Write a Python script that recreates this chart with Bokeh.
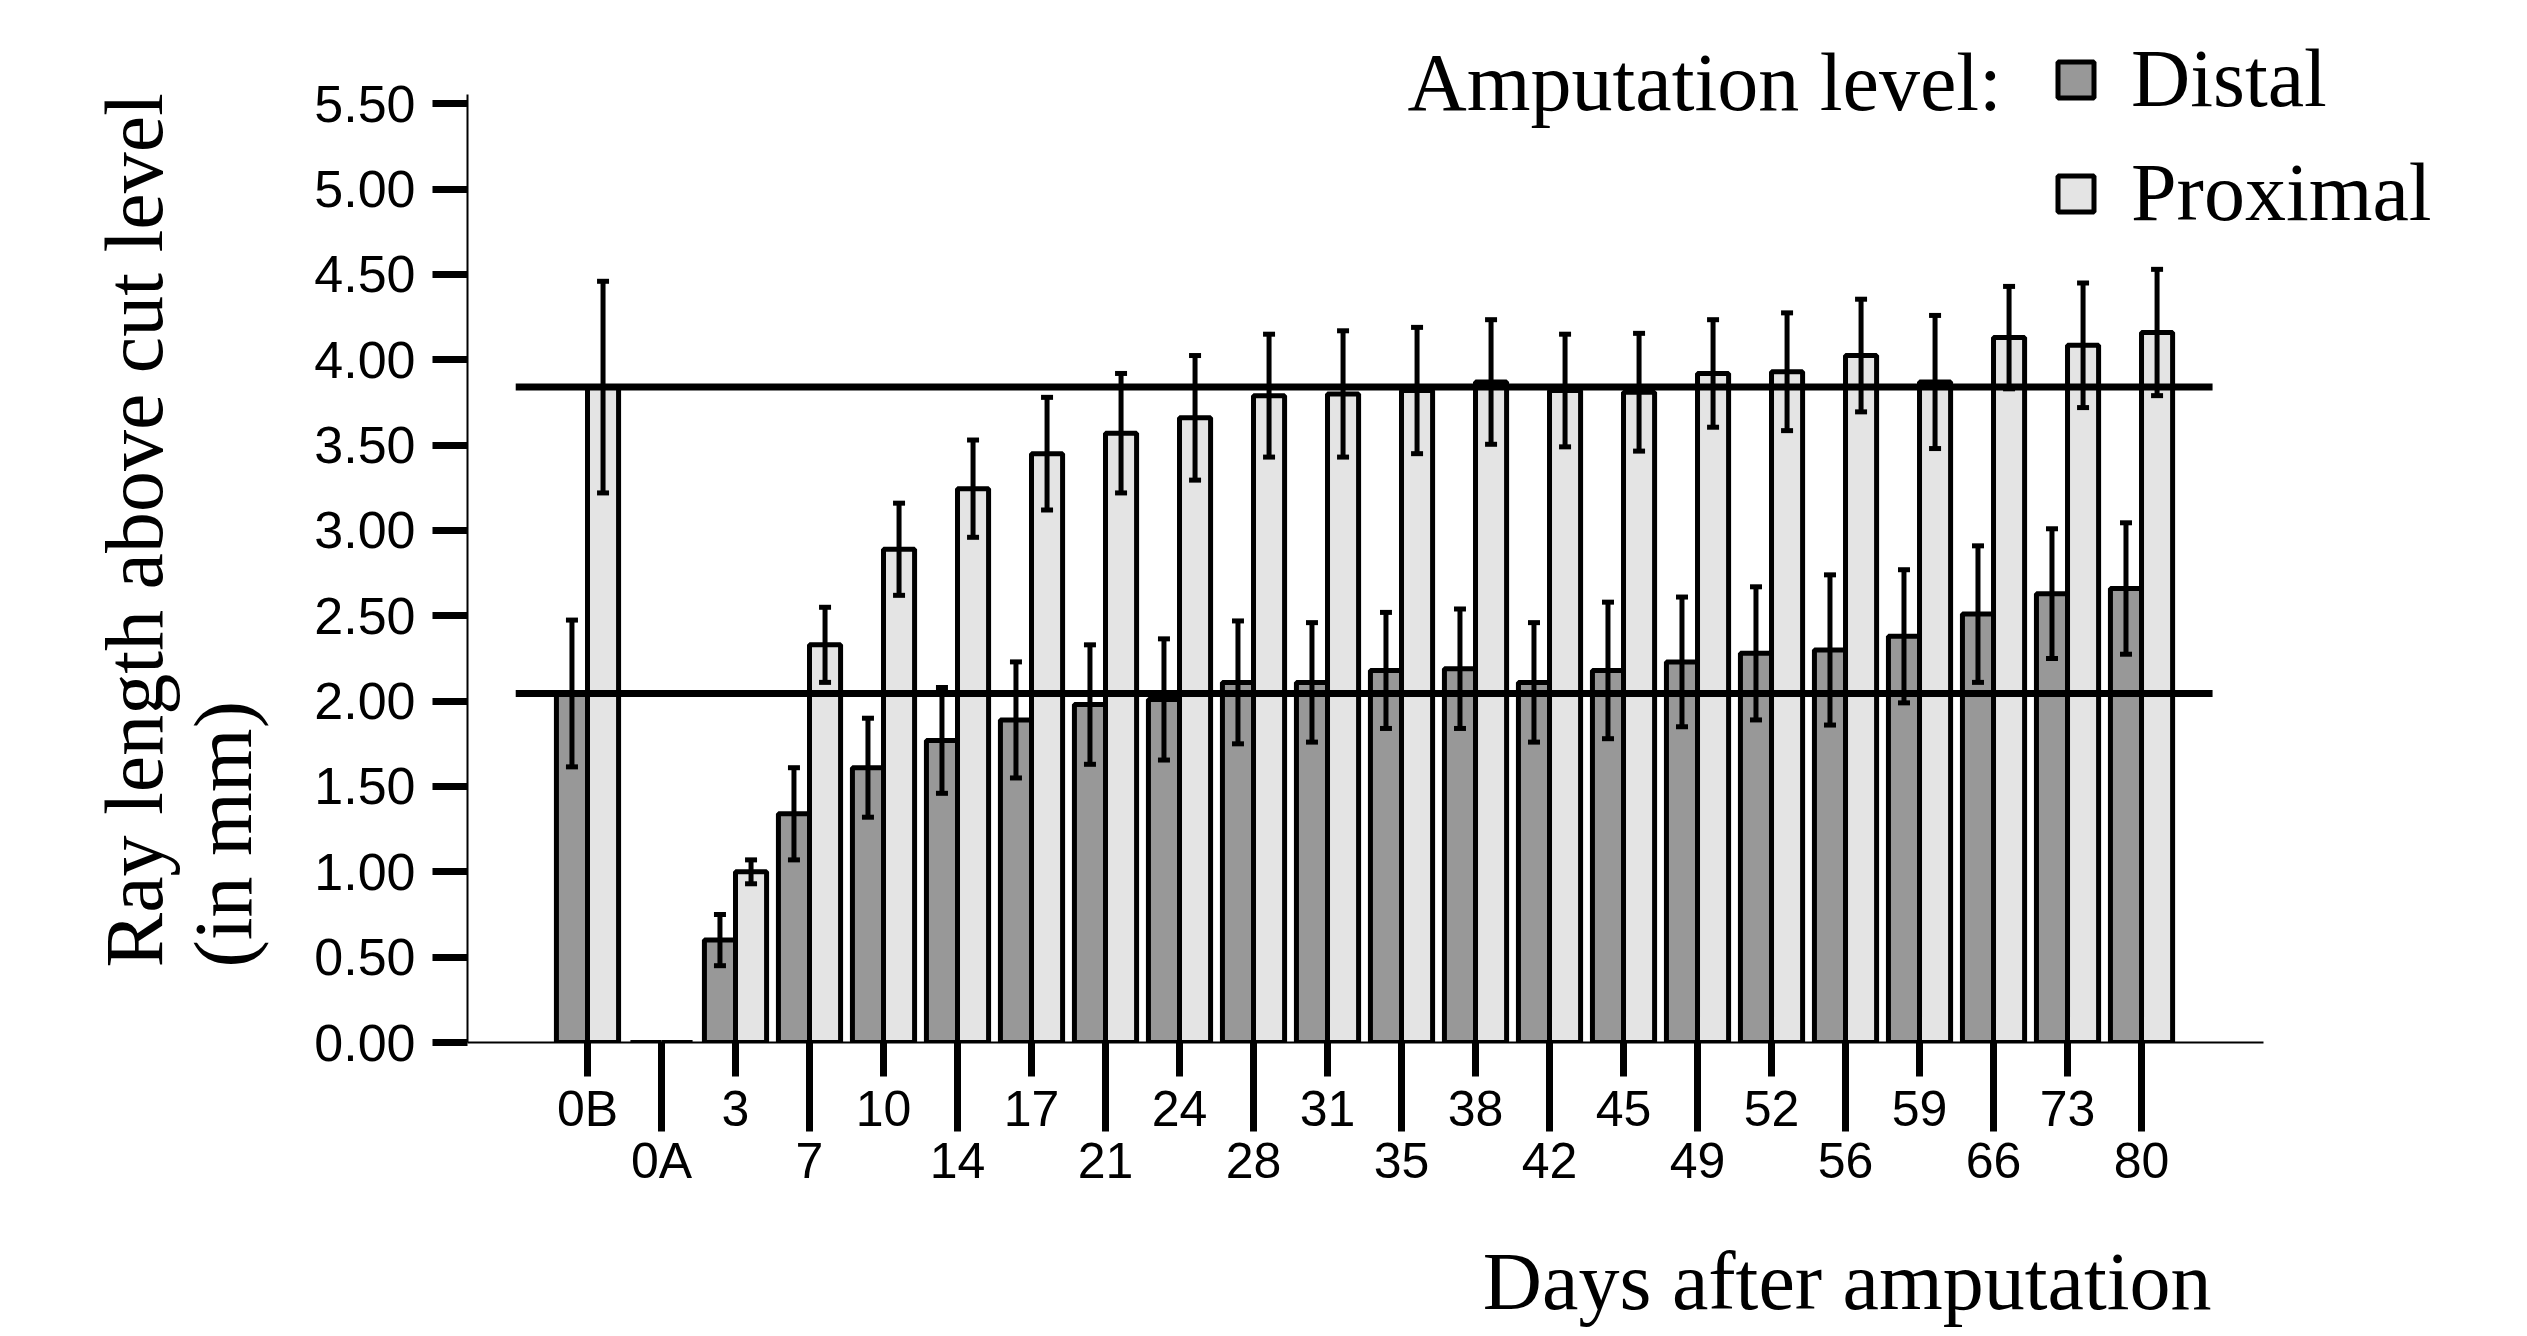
import numpy as np
from bokeh.plotting import figure
from bokeh.models import (Range1d, FixedTicker, ColumnDataSource, Whisker, TeeHead,
                          Label, Legend, LegendItem, PrintfTickFormatter, Title)
from bokeh.embed import file_html
from bokeh.resources import INLINE

# ---------------- data ----------------
days = ["0B", "0A", "3", "7", "10", "14", "17", "21", "24", "28", "31",
        "35", "38", "42", "45", "49", "52", "56", "59", "66", "73", "80"]
distal = [2.045, 0.0, 0.60, 1.34, 1.61, 1.77, 1.89, 1.98, 2.01, 2.11, 2.11,
          2.18, 2.19, 2.11, 2.18, 2.23, 2.28, 2.30, 2.38, 2.51, 2.63, 2.66]
distal_err = [0.43, 0.0, 0.15, 0.27, 0.29, 0.31, 0.34, 0.35, 0.355, 0.36, 0.35,
              0.34, 0.35, 0.35, 0.40, 0.38, 0.39, 0.44, 0.39, 0.40, 0.38, 0.385]
proximal = [3.84, 0.0, 1.00, 2.33, 2.89, 3.245, 3.45, 3.57, 3.66, 3.79, 3.80,
            3.82, 3.87, 3.82, 3.81, 3.92, 3.93, 4.025, 3.87, 4.13, 4.085, 4.16]
proximal_err = [0.62, 0.0, 0.07, 0.22, 0.27, 0.285, 0.33, 0.35, 0.365, 0.36, 0.37,
                0.37, 0.365, 0.33, 0.345, 0.315, 0.345, 0.33, 0.39, 0.30, 0.365, 0.37]
ref_levels = [3.84, 2.045]          # uninjured (0B) reference lengths
y_ticks = [0.0, 0.5, 1.0, 1.5, 2.0, 2.5, 3.0, 3.5, 4.0, 4.5, 5.0, 5.5]
series_names = ["Distal", "Proximal"]
legend_title = "Amputation level:"
x_title = "Days after amputation"
y_title = "Ray length above cut level\n(in mm)"

# ---------------- styling ----------------
DISTAL_C = "#989898"
PROX_C = "#e4e4e4"
BAR_W = 0.42
SANS = "Liberation Sans"
SERIF = "Liberation Serif"

n = len(days)
idx = np.arange(n)

def make_src(offset, vals, errs):
    v = np.array(vals)
    e = np.array(errs)
    return ColumnDataSource(dict(x=idx + offset, top=v, lower=v - e, upper=v + e))

src_d = make_src(-BAR_W / 2, distal, distal_err)
src_p = make_src(BAR_W / 2, proximal, proximal_err)

X_LO, X_AX_HI, X_HI = -1.6216, 22.649, 25.851
Y_AX_HI, Y_HI = 5.553, 5.988

p = figure(width=2511, height=1330,
           x_range=Range1d(X_LO, X_HI), y_range=Range1d(0, Y_HI),
           output_backend="svg", toolbar_location=None,
           min_border_left=467, min_border_right=11,
           min_border_top=20, min_border_bottom=288)
p.xgrid.visible = False
p.ygrid.visible = False
p.outline_line_color = None
p.background_fill_color = "white"
p.border_fill_color = "white"

rd = p.vbar(x="x", top="top", bottom=0, width=BAR_W, source=src_d,
            fill_color=DISTAL_C, line_color="black", line_width=5)
rp = p.vbar(x="x", top="top", bottom=0, width=BAR_W, source=src_p,
            fill_color=PROX_C, line_color="black", line_width=5)

p.segment(x0=[-0.97] * len(ref_levels), x1=[n - 1 + 0.96] * len(ref_levels),
          y0=ref_levels, y1=ref_levels, line_color="black", line_width=7)

for src in (src_d, src_p):
    w = Whisker(source=src, base="x", upper="upper", lower="lower",
                line_color="black", line_width=5, level="overlay",
                upper_head=TeeHead(size=12, line_width=5, line_color="black"),
                lower_head=TeeHead(size=12, line_width=5, line_color="black"))
    p.add_layout(w)

# x axis: alternating short / long ticks and two label rows
xa = p.xaxis[0]
xa.bounds = (X_LO, X_AX_HI)
xa.ticker = FixedTicker(ticks=[int(i) for i in idx],
                        minor_ticks=[int(i) for i in idx[1::2]])
xa.major_label_overrides = {int(i): (d if i % 2 == 0 else "\n" + d)
                            for i, d in enumerate(days)}
xa.axis_line_color = "black"
xa.axis_line_width = 2
xa.major_tick_in = 0
xa.major_tick_out = 34
xa.minor_tick_in = 0
xa.minor_tick_out = 89
xa.major_tick_line_width = 7
xa.minor_tick_line_width = 7
xa.major_tick_line_color = "black"
xa.minor_tick_line_color = "black"
xa.major_label_text_font = SANS
xa.major_label_text_font_size = "50px"
xa.major_label_text_color = "black"
xa.major_label_text_line_height = 0.936
xa.major_label_standoff = -51

ya = p.yaxis[0]
ya.bounds = (0, Y_AX_HI)
ya.ticker = FixedTicker(ticks=y_ticks)
ya.formatter = PrintfTickFormatter(format="%.2f")
ya.axis_line_color = "black"
ya.axis_line_width = 2
ya.major_tick_in = 0
ya.major_tick_out = 35
ya.major_tick_line_width = 7
ya.major_tick_line_color = "black"
ya.minor_tick_line_color = None
ya.major_label_text_font = SANS
ya.major_label_text_font_size = "52px"
ya.major_label_text_color = "black"
ya.major_label_standoff = 17

# axis titles in the side panels
p.add_layout(Title(text=y_title, align="left", offset=75, vertical_align="bottom",
                   standoff=84, text_font=SERIF, text_font_size="82px",
                   text_font_style="normal", text_color="black",
                   text_line_height=0.98), "left")
# blank spacer between the tick labels and the x title
p.add_layout(Title(text=" ", standoff=41, text_font_size="1px"), "below")
p.add_layout(Title(text=x_title, align="right", offset=289, vertical_align="top",
                   standoff=0, text_font=SERIF, text_font_size="82px",
                   text_font_style="normal", text_color="black"), "below")

# legend (inside the extended frame, above the bars)
p.add_layout(Label(x=940, y=960, x_units="screen", y_units="screen",
                   text=legend_title, text_align="left", text_baseline="alphabetic",
                   text_font=SERIF, text_font_size="82px", text_color="black"))

legend = Legend(items=[LegendItem(label=series_names[0], renderers=[rd]),
                       LegendItem(label=series_names[1], renderers=[rp])],
                location=(1586, 802), orientation="vertical",
                padding=0, margin=0, spacing=20,
                glyph_width=45, glyph_height=45, label_standoff=33,
                label_text_font=SERIF, label_text_font_size="82px",
                label_text_color="black",
                border_line_color=None, background_fill_alpha=0)
p.add_layout(legend)

open("out.html", "w").write(file_html(p, INLINE))
